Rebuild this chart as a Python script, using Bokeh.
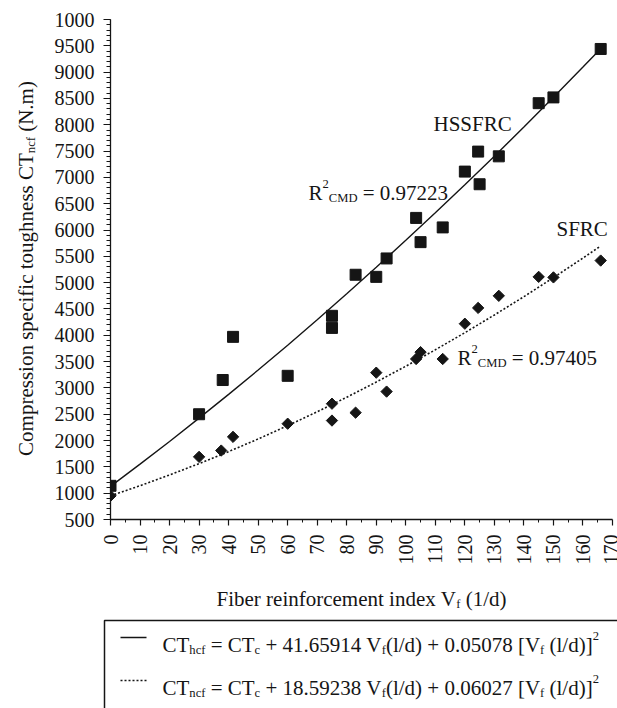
from math import pi
from bokeh.plotting import figure
from bokeh.models import Range1d, FixedTicker
from bokeh.layouts import column, row
from bokeh.embed import file_html
from bokeh.resources import INLINE

# ---------------- data ----------------
hss_vf = [0, 30, 38, 41.5, 60, 75, 75, 83, 90, 93.5, 103.5, 105, 112.5, 120, 124.5, 125, 131.5, 145, 150, 166]
hss_ct = [1140, 2500, 3150, 3970, 3230, 4370, 4140, 5150, 5110, 5460, 6230, 5770, 6050, 7110, 7490, 6870, 7400, 8410, 8520, 9440]

sfrc_vf = [0, 30, 37.5, 41.5, 60, 75, 75, 83, 90, 93.5, 103.5, 105, 112.5, 120, 124.5, 131.5, 145, 150, 166]
sfrc_ct = [950, 1690, 1810, 2070, 2320, 2700, 2380, 2530, 3290, 2930, 3550, 3680, 3550, 4220, 4520, 4750, 5110, 5100, 5420]

# fitted curves
fit_vf = [0, 10, 20, 30, 40, 50, 60, 70, 80, 90, 100, 110, 120, 130, 140, 150, 160, 166]
hss_fit = [1130, 1552, 1983, 2426, 2878, 3340, 3812, 4295, 4788, 5291, 5804, 6327, 6860, 7404, 7958, 8522, 9096, 9445]
sfrc_fit = [950, 1142, 1346, 1562, 1790, 2030, 2283, 2547, 2823, 3112, 3412, 3724, 4049, 4386, 4734, 5095, 5468, 5697]

x_ticks = list(range(0, 171, 10))
x_minor = list(range(5, 170, 10))
y_ticks = list(range(500, 10001, 500))
y_minor = list(range(500, 10001, 100))
y_overrides = {10000: "1000"}

FONT = "Liberation Serif"
INK = "#151515"

# ---------------- layout constants (page pixels) ----------------
YT_W = 40
FL, FT, FW, FH = 110, 19, 502, 500
TOP_H = 570
X0, X1, Y0, Y1 = 0, 170, 500, 10000
XS = FW / (X1 - X0)
YS = FH / (Y1 - Y0)


def px2x(px):
    return X0 + (px - FL) / XS


def py2y(py):
    return Y0 + (FT + FH - py) / YS


W = {' ': 250, '(': 333, ')': 333, '.': 250, '/': 278, '=': 564, '+': 564, '[': 333, ']': 333,
     'A': 722, 'C': 667, 'D': 722, 'F': 556, 'H': 722, 'M': 889, 'N': 722, 'R': 667, 'S': 556,
     'T': 611, 'V': 722, 'a': 444, 'b': 500, 'c': 444, 'd': 500, 'e': 444, 'f': 333, 'g': 500,
     'h': 500, 'i': 278, 'l': 278, 'm': 778, 'n': 500, 'o': 500, 'p': 500, 'r': 333, 's': 389,
     't': 278, 'u': 500, 'x': 500}


def tw(s, size):
    return sum(W.get(c, 500) for c in s) / 1000.0 * size


def rich(segs, size):
    """Pieces (dx, dy, text, fontsize); leading spaces become offsets (SVG collapses them)."""
    out = []
    dx = 0.0
    for txt, kind in segs:
        if kind == "n":
            fs, dy = size, 0.0
        elif kind == "sub":
            fs, dy = size * 0.6, size * 0.28
        else:
            fs, dy = size * 0.6, -size * 0.4
        stripped = txt.lstrip(" ")
        lead = len(txt) - len(stripped)
        dx += tw(" " * lead, fs)
        out.append((dx, dy, stripped, fs))
        dx += tw(stripped, fs)
    return out, dx


def draw_rich(fig, items, angle=0.0):
    xs, ys, ts, fss = [], [], [], []
    for segs, size, px, py in items:
        parts, _ = rich(segs, size)
        for dx, dy, txt, fs in parts:
            if angle == 0.0:
                xs.append(px + dx)
                ys.append(py + dy)
            else:
                xs.append(px + dy)
                ys.append(py - dx)
            ts.append(txt)
            fss.append(f"{fs:.1f}px")
    fig.text(x=xs, y=ys, text=ts, text_font_size=fss, text_font=FONT, angle=angle,
             text_color=INK, text_align="left", text_baseline="alphabetic")


def pixel_fig(w, h, top=0):
    # data coordinates equal page pixels (y grows downward, starting at page y = top)
    f = figure(frame_width=w, frame_height=h, x_range=Range1d(0, w), y_range=Range1d(top + h, top),
               min_border_left=0, min_border_right=0, min_border_top=0, min_border_bottom=0,
               x_axis_type=None, y_axis_type=None, title=None,
               output_backend="svg", toolbar_location=None)
    f.outline_line_color = None
    f.grid.visible = False
    f.background_fill_color = "white"
    f.border_fill_color = "white"
    return f


# ---------------- main chart ----------------
p = figure(frame_width=FW, frame_height=FH, min_border_left=FL - YT_W, min_border_right=5,
           min_border_top=FT, min_border_bottom=TOP_H - FT - FH,
           x_range=Range1d(X0, X1), y_range=Range1d(Y0, Y1), title=None,
           output_backend="svg", toolbar_location=None)
p.outline_line_color = None
p.grid.visible = False
p.background_fill_color = "white"
p.border_fill_color = "white"

for ax in (p.xaxis[0], p.yaxis[0]):
    ax.axis_line_color = INK
    ax.axis_line_width = 1.3
    ax.major_tick_line_color = INK
    ax.minor_tick_line_color = INK
    ax.major_tick_line_width = 1.2
    ax.minor_tick_line_width = 1.0
    ax.major_tick_in = 0
    ax.minor_tick_in = 0
    ax.major_label_text_font = FONT
    ax.major_label_text_font_size = "20px"
    ax.major_label_text_color = INK
    ax.major_label_standoff = 9

p.xaxis.ticker = FixedTicker(ticks=x_ticks, minor_ticks=x_minor)
p.xaxis.major_label_orientation = pi / 2
p.xaxis.major_tick_out = 6
p.xaxis.minor_tick_out = 3
p.yaxis.ticker = FixedTicker(ticks=y_ticks, minor_ticks=y_minor)
p.yaxis.major_label_overrides = y_overrides
p.yaxis.major_tick_out = 7
p.yaxis.minor_tick_out = 4

p.line(fit_vf, hss_fit, line_color=INK, line_width=1.4)
p.line(fit_vf, sfrc_fit, line_color=INK, line_width=1.6, line_dash="2 2")

p.scatter(hss_vf, hss_ct, marker="square", size=11, fill_color=INK, line_color=INK)
p.scatter(sfrc_vf, sfrc_ct, marker="square", angle=pi / 4, size=8, fill_color=INK, line_color=INK)

# in-plot annotations (page-pixel anchors converted to data)
ann = [
    ([("HSSFRC", "n")], 21, 433, 123),
    ([("SFRC", "n")], 21, 556, 228),
    ([("R", "n"), ("2", "sup"), ("CMD", "sub"), (" = 0.97223", "n")], 21, 308, 192),
    ([("R", "n"), ("2", "sup"), ("CMD", "sub"), (" = 0.97405", "n")], 21, 457, 357),
]
axs, ays, ats, afs = [], [], [], []
for segs, size, px, py in ann:
    parts, _ = rich(segs, size)
    for dx, dy, txt, fs in parts:
        axs.append(px2x(px + dx))
        ays.append(py2y(py + dy))
        ats.append(txt)
        afs.append(f"{fs:.1f}px")
p.text(x=axs, y=ays, text=ats, text_font_size=afs, text_font=FONT, text_color=INK,
       text_align="left", text_baseline="alphabetic")

# ---------------- y-title strip (frame aligned with the chart frame top) ----------------
yfig = pixel_fig(YT_W, TOP_H - FT, top=FT)
yt = [("Compression specific toughness CT", "n"), ("ncf", "sub"), (" (N.m)", "n")]
_, yw = rich(yt, 21)
draw_rich(yfig, [(yt, 21, 25, 268 + yw / 2)], angle=pi / 2)

# ---------------- bottom strip: x title + equation box ----------------
BH = 708 - TOP_H
q = pixel_fig(617, BH, top=TOP_H)
xt = [("Fiber reinforcement index V", "n"), ("f", "sub"), (" (1/d)", "n")]
_, xw = rich(xt, 21)
draw_rich(q, [(xt, 21, FL + FW / 2 - xw / 2, 598)])

q.quad(left=[104], right=[660], top=[620], bottom=[750], fill_color=None,
       line_color=INK, line_width=1.5)

eq1 = [("CT", "n"), ("hcf", "sub"), (" = CT", "n"), ("c", "sub"), (" + 41.65914 V", "n"), ("f", "sub"),
       ("(l/d) + 0.05078 [V", "n"), ("f", "sub"), (" (l/d)]", "n"), ("2", "sup")]
eq2 = [("CT", "n"), ("ncf", "sub"), (" = CT", "n"), ("c", "sub"), (" + 18.59238 V", "n"), ("f", "sub"),
       ("(l/d) + 0.06027 [V", "n"), ("f", "sub"), (" (l/d)]", "n"), ("2", "sup")]
b1, b2 = 644, 687
draw_rich(q, [(eq1, 21, 162, b1), (eq2, 21, 162, b2)])
q.line([120, 146], [b1 - 7, b1 - 7], line_color=INK, line_width=1.4)
q.line([120, 146], [b2 - 7, b2 - 7], line_color=INK, line_width=1.6, line_dash="2 2")

layout = column(row(yfig, p, spacing=0), q, spacing=0)
open("out.html", "w").write(file_html(layout, INLINE))
